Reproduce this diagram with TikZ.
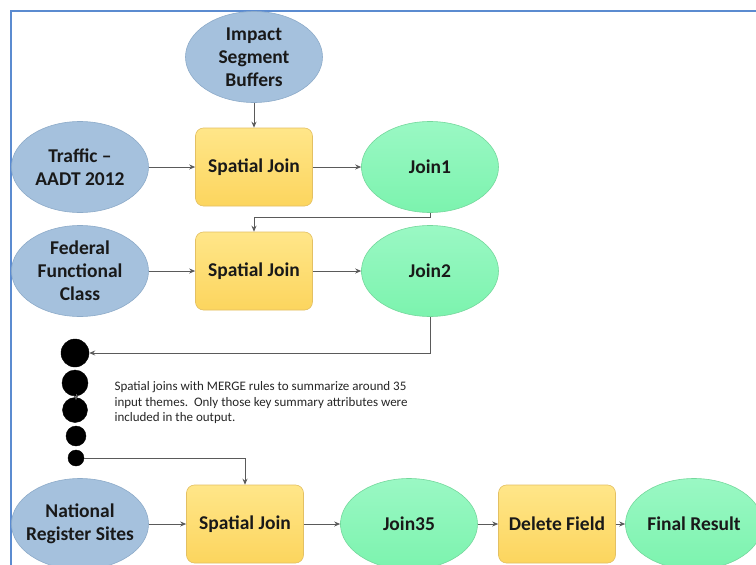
\documentclass[tikz,border=0pt]{standalone}
\usepackage{fontspec}
\setmainfont{Carlito}
\usetikzlibrary{shapes.geometric,arrows.meta}
\definecolor{frameblue}{HTML}{5B8BD0}
\definecolor{inblue}{HTML}{A5C1DD}
\definecolor{inblueline}{HTML}{8DABC9}
\definecolor{boxtop}{HTML}{FFE689}
\definecolor{boxbot}{HTML}{FCD55E}
\definecolor{boxline}{HTML}{E3C063}
\definecolor{grtop}{HTML}{9AF8C4}
\definecolor{grbot}{HTML}{7CF3AE}
\definecolor{grline}{HTML}{74D89C}
\definecolor{conn}{HTML}{5A5A5A}
\tikzset{
  lbl/.style={font=\fontsize{19.5}{23}\selectfont\bfseries, text=black!90, align=center},
  inp/.style={ellipse, lbl, draw=inblueline, fill=inblue, line width=0.6pt, minimum width=137pt, minimum height=91pt, inner sep=0pt},
  outp/.style={ellipse, lbl, draw=grline, top color=grtop, bottom color=grbot, line width=0.6pt, minimum width=137pt, minimum height=91pt, inner sep=0pt},
  tool/.style={rectangle, rounded corners=8pt, lbl, draw=boxline, top color=boxtop, bottom color=boxbot, line width=0.6pt, minimum width=117pt, minimum height=78pt, inner sep=0pt},
  dot/.style={circle, fill=black, draw=black, inner sep=0pt},
  conn/.style={draw=conn, line width=0.9pt, -{Stealth[length=6pt,width=5pt]}},
}
\begin{document}
\begin{tikzpicture}[x=1pt,y=-1pt]
\useasboundingbox (0,0) rectangle (756,565);
\fill[white] (0,0) rectangle (756,565);
% frame
\draw[frameblue, line width=1.5pt] (11,565) -- (11,11) -- (756,11);
% row 0
\node[inp] (impact) at (254,57) {Impact\\Segment\\Buffers};
% row 1
\node[inp] (traffic) at (80,167) {Traffic --\\AADT 2012};
\node[tool] (sj1) at (254,167) {Spatial Join};
\node[outp] (join1) at (430,167) {Join1};
% row 2
\node[inp] (federal) at (80,271) {Federal\\Functional\\Class};
\node[tool] (sj2) at (254,271) {Spatial Join};
\node[outp] (join2) at (430,271) {Join2};
% dots
\node[dot, minimum size=28pt] (d1) at (75,353) {};
\node[dot, minimum size=26pt] (d2) at (75,383) {};
\node[dot, minimum size=25pt] (d3) at (75,410) {};
\node[dot, minimum size=20pt] (d4) at (76,436) {};
\node[dot, minimum size=16pt] (d5) at (76,458) {};
\node[anchor=west, align=left, font=\fontsize{13}{15.5}\selectfont, text=black!85] (note) at (111,403)
  {Spatial joins with MERGE rules to summarize around 35\\input themes.\ \ Only those key summary attributes were\\included in the output.};
% row 3
\node[inp, inner xsep=-6pt] (national) at (80,524) {National\\Register Sites};
\node[tool] (sj3) at (245,524) {Spatial Join};
\node[outp] (join35) at (409,524) {Join35};
\node[tool] (del) at (557,524) {Delete Field};
\node[outp, inner xsep=-4pt] (final) at (694,524) {Final Result};
% connectors
\draw[conn] (impact.south) -- (sj1.north);
\draw[conn] (traffic.east) -- (sj1.west);
\draw[conn] (sj1.east) -- (join1.west);
\draw[conn] (join1.south) -- ++(0,5) -| (sj2.north);
\draw[conn] (federal.east) -- (sj2.west);
\draw[conn] (sj2.east) -- (join2.west);
\draw[conn] (join2.south) |- (d1.east);
\draw[conn, -{Stealth[length=5pt,width=5pt]}] (d2.south) ++(1,-2) -- ++(0,6);
\draw[conn] (d5.east) -| (sj3.north);
\draw[conn] (national.east) -- (sj3.west);
\draw[conn] (sj3.east) -- (join35.west);
\draw[conn] (join35.east) -- (del.west);
\draw[conn] (del.east) -- (final.west);
\end{tikzpicture}
\end{document}
